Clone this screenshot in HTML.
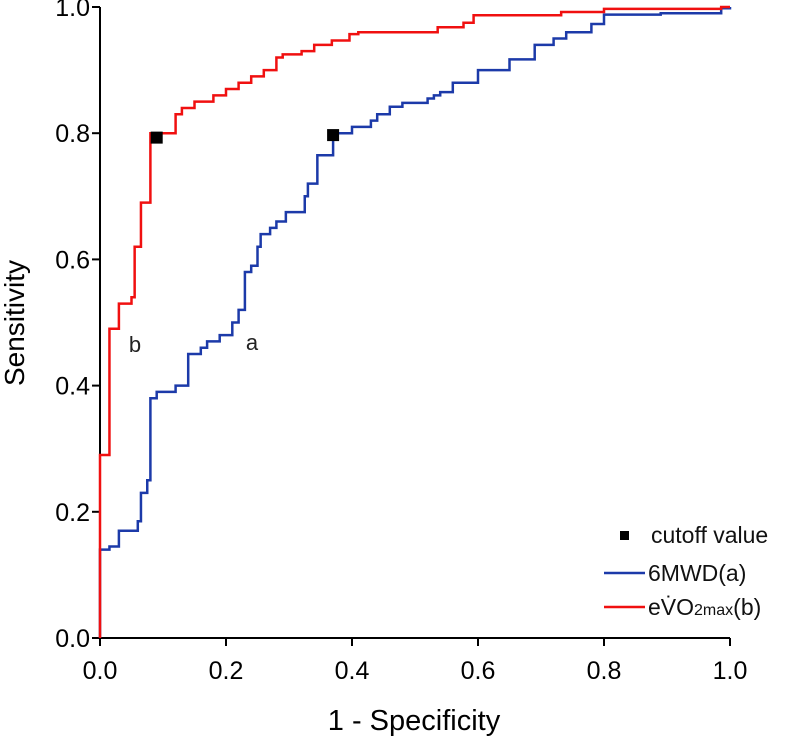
<!DOCTYPE html>
<html><head><meta charset="utf-8"><style>
body{margin:0;background:#fff;}
svg{display:block;font-family:"Liberation Sans",Arial,sans-serif;}
</style></head><body>
<svg id="chart" width="786" height="741" viewBox="0 0 786 741">
<g id="axes"></g>
<g id="series"></g>
<text x="135" y="352" font-size="22" text-anchor="middle" fill="#222">b</text>
<text x="252" y="350" font-size="22" text-anchor="middle" fill="#222">a</text>
<text transform="translate(24,323) rotate(-90)" font-size="28" text-anchor="middle" fill="#000">Sensitivity</text>
<text x="414" y="730" font-size="29" text-anchor="middle" fill="#000">1 - Specificity</text>
<g>
<rect x="620" y="531" width="9" height="9" fill="#000"/>
<text x="651" y="543" font-size="23" fill="#111">cutoff value</text>
<line x1="604" y1="573" x2="645" y2="573" stroke="#1c3aa9" stroke-width="2.5"/>
<text x="648" y="581" font-size="23" fill="#111">6MWD(a)</text>
<line x1="604" y1="607" x2="645" y2="607" stroke="#f01010" stroke-width="2.5"/>
<text x="648" y="615" font-size="23" fill="#111">eV&#775;O<tspan font-size="16">2max</tspan>(b)</text>
</g>
</svg>
<script>
const xTicks=[0,0.2,0.4,0.6,0.8,1.0];
const yTicks=[0,0.2,0.4,0.6,0.8,1.0];
const tickLabels=["0.0","0.2","0.4","0.6","0.8","1.0"];
const fpr6mwd=[0,0,0.015,0.03,0.06,0.065,0.075,0.08,0.09,0.12,0.14,0.16,0.17,0.19,0.21,0.22,0.23,0.24,0.25,0.255,0.27,0.28,0.295,0.325,0.33,0.345,0.37,0.40,0.43,0.44,0.46,0.48,0.52,0.53,0.54,0.56,0.60,0.65,0.69,0.72,0.74,0.78,0.80,0.89,0.986,1];
const tpr6mwd=[0,0.14,0.145,0.17,0.185,0.23,0.25,0.38,0.39,0.40,0.45,0.46,0.47,0.48,0.50,0.52,0.58,0.59,0.62,0.64,0.65,0.66,0.675,0.70,0.72,0.765,0.80,0.81,0.82,0.83,0.842,0.848,0.855,0.86,0.865,0.88,0.90,0.917,0.94,0.95,0.96,0.973,0.988,0.99,0.998,1];
const fprEvo2=[0,0,0.015,0.03,0.05,0.055,0.065,0.08,0.12,0.13,0.15,0.18,0.20,0.22,0.24,0.26,0.28,0.29,0.32,0.34,0.368,0.396,0.41,0.536,0.577,0.593,0.732,0.80,0.986,1];
const tprEvo2=[0,0.29,0.49,0.53,0.54,0.62,0.69,0.80,0.83,0.84,0.85,0.86,0.87,0.88,0.89,0.90,0.92,0.925,0.93,0.94,0.947,0.957,0.96,0.968,0.975,0.987,0.992,0.997,1.0,1];
const cutoffX=[0.09,0.37];
const cutoffY=[0.793,0.797];
const X0=100,X1=730,Y0=638,Y1=7;
const sx=v=>X0+(X1-X0)*v;
const sy=v=>Y0-(Y0-Y1)*v;
const NS="http://www.w3.org/2000/svg";
const axes=document.getElementById('axes'),series=document.getElementById('series');
function mk(tag,attrs,parent){const e=document.createElementNS(NS,tag);for(const k in attrs)e.setAttribute(k,attrs[k]);parent.appendChild(e);return e;}
let l=mk('line',{x1:X0,y1:Y0,x2:X1,y2:Y0,stroke:'#000','stroke-width':2},axes);


l=mk('line',{x1:X0,y1:Y0,x2:X0,y2:Y1,stroke:'#000','stroke-width':2},axes);


xTicks.forEach((v,i)=>{
 const t=mk('line',{x1:sx(v),y1:Y0,x2:sx(v),y2:Y0+8,stroke:'#000','stroke-width':2},axes);
 
 
 const tx=mk('text',{x:sx(v),y:Y0+41,'font-size':25,'text-anchor':'middle'},axes);
 tx.textContent=tickLabels[i];
 
 
});
yTicks.forEach((v,i)=>{
 const t=mk('line',{x1:X0-8,y1:sy(v),x2:X0,y2:sy(v),stroke:'#000','stroke-width':2},axes);
 
 
 const tx=mk('text',{x:X0-10,y:sy(v)+9,'font-size':25,'text-anchor':'end'},axes);
 tx.textContent=tickLabels[i];
 
 
});
function stepPath(xs,ys){let d='M'+sx(xs[0])+','+sy(ys[0]);for(let i=1;i<xs.length;i++){d+=' H'+sx(xs[i])+' V'+sy(ys[i]);}return d;}
let p=mk('path',{d:stepPath(fpr6mwd,tpr6mwd),fill:'none',stroke:'#1c3aa9','stroke-width':2.5},series);


p=mk('path',{d:stepPath(fprEvo2,tprEvo2),fill:'none',stroke:'#f01010','stroke-width':2.5},series);


cutoffX.forEach((v,i)=>{
 const r=mk('rect',{x:sx(v)-6,y:sy(cutoffY[i])-6,width:12,height:12,fill:'#000'},series);
 
 
});
</script>
</body></html>
